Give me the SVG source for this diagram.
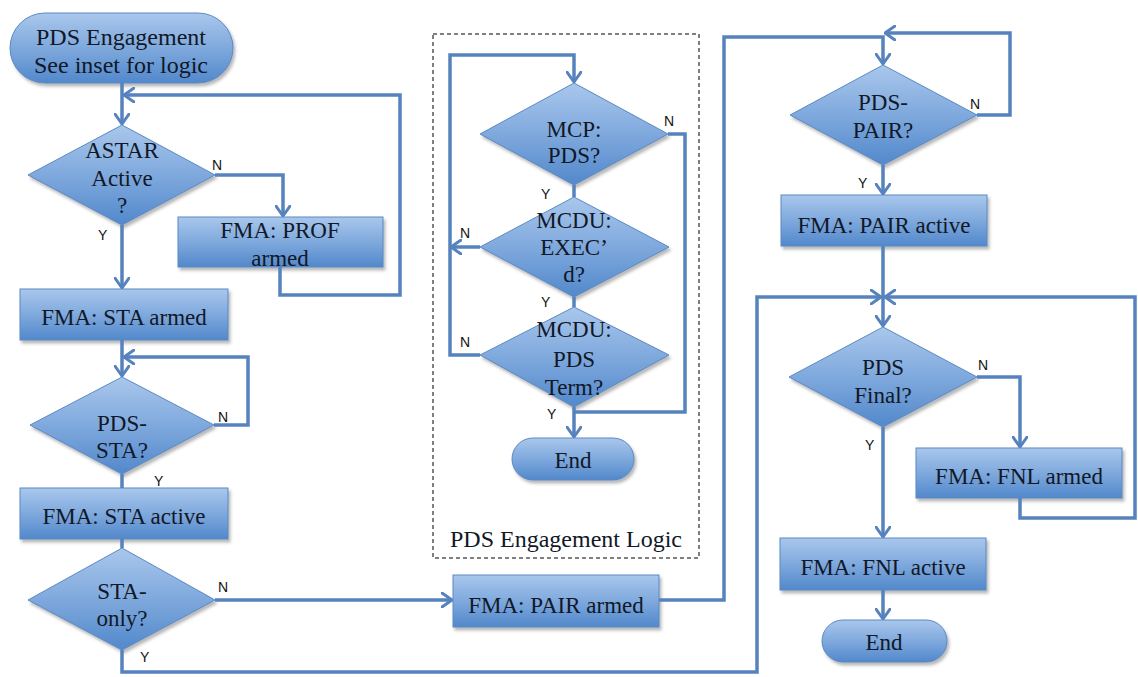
<svg xmlns="http://www.w3.org/2000/svg" width="1138" height="677" viewBox="0 0 1138 677">
  <defs>
    <linearGradient id="nodeFill" x1="0" y1="0" x2="0" y2="1">
      <stop offset="0" stop-color="#a9c7ec"/>
      <stop offset="0.5" stop-color="#7fa9dd"/>
      <stop offset="1" stop-color="#5288cb"/>
    </linearGradient>
    <filter id="shadow" x="-10%" y="-10%" width="130%" height="140%">
      <feDropShadow dx="2" dy="3" stdDeviation="1.8" flood-color="#333" flood-opacity="0.35"/>
    </filter>
    <marker id="arrow" viewBox="0 0 12 16" refX="11" refY="8" markerWidth="12" markerHeight="16" markerUnits="userSpaceOnUse" orient="auto">
      <path d="M1,1 L11,8 L1,15" fill="none" stroke="#5682be" stroke-width="3" stroke-linecap="round" stroke-linejoin="round"/>
    </marker>
  </defs>
  <style>
    .node { fill: url(#nodeFill); stroke: #5b89c4; stroke-width: 1; filter: url(#shadow); }
    .t { font-family: "Liberation Serif", "Times New Roman", serif; font-size: 23px; fill: #111827; text-anchor: middle; }
    .ts { font-size: 24px; }
    .lbl { font-family: "Liberation Sans", Arial, sans-serif; font-size: 14px; fill: #111; }
    .c { fill: none; stroke: #5682be; stroke-width: 3.5; stroke-linejoin: miter; }
    .ca { marker-end: url(#arrow); }
    .inset { fill: none; stroke: #555; stroke-width: 1.5; stroke-dasharray: 4 3; }
  </style>
  <rect width="1138" height="677" fill="#ffffff"/>

  <!-- inset frame -->
  <g id="inset-frame">
    <rect class="inset" x="433" y="34" width="266" height="524"/>
    <text class="t ts" x="566" y="547">PDS Engagement Logic</text>
  </g>

  <!-- nodes -->
  <g id="start">
    <rect class="node" x="10" y="13" width="223" height="70" rx="35" ry="35"/>
    <text class="t ts" x="121" y="45">PDS Engagement</text>
    <text class="t ts" x="121" y="73">See inset for logic</text>
  </g>
  <g id="astar">
    <polygon class="node" points="122,125 215,175 122,225 28,175"/>
    <text class="t" x="122" y="158">ASTAR</text>
    <text class="t" x="122" y="186">Active</text>
    <text class="t" x="122" y="213">?</text>
  </g>
  <g id="prof-armed">
    <rect class="node" x="178" y="217" width="205" height="50"/>
    <text class="t" x="280" y="238">FMA: PROF</text>
    <text class="t" x="280" y="266">armed</text>
  </g>
  <g id="sta-armed">
    <rect class="node" x="20" y="289" width="208" height="51"/>
    <text class="t" x="124" y="325">FMA: STA armed</text>
  </g>
  <g id="pds-sta">
    <polygon class="node" points="122,377 214,425 122,474 30,425"/>
    <text class="t" x="122" y="431">PDS-</text>
    <text class="t" x="122" y="458">STA?</text>
  </g>
  <g id="sta-active">
    <rect class="node" x="20" y="488" width="208" height="51"/>
    <text class="t" x="124" y="524">FMA: STA active</text>
  </g>
  <g id="sta-only">
    <polygon class="node" points="122,548 215,600 122,650 28,600"/>
    <text class="t" x="122" y="599">STA-</text>
    <text class="t" x="122" y="626">only?</text>
  </g>
  <g id="pair-armed">
    <rect class="node" x="453" y="575" width="206" height="52"/>
    <text class="t" x="556" y="613">FMA: PAIR armed</text>
  </g>
  <g id="pds-pair">
    <polygon class="node" points="883,65 977,115 883,165 790,115"/>
    <text class="t" x="883" y="110">PDS-</text>
    <text class="t" x="883" y="138">PAIR?</text>
  </g>
  <g id="pair-active">
    <rect class="node" x="781" y="195" width="206" height="51"/>
    <text class="t" x="884" y="233">FMA: PAIR active</text>
  </g>
  <g id="pds-final">
    <polygon class="node" points="883,327 977,377 883,427 789,377"/>
    <text class="t" x="883" y="375">PDS</text>
    <text class="t" x="883" y="403">Final?</text>
  </g>
  <g id="fnl-armed">
    <rect class="node" x="916" y="448" width="206" height="50"/>
    <text class="t" x="1019" y="484">FMA: FNL armed</text>
  </g>
  <g id="fnl-active">
    <rect class="node" x="780" y="538" width="206" height="52"/>
    <text class="t" x="883" y="575">FMA: FNL active</text>
  </g>
  <g id="end-main">
    <rect class="node" x="822" y="620" width="125" height="42" rx="21" ry="21"/>
    <text class="t" x="884" y="650">End</text>
  </g>
  <g id="mcp-pds">
    <polygon class="node" points="574,83 668,134 574,185 480,134"/>
    <text class="t" x="574" y="137">MCP:</text>
    <text class="t" x="574" y="163">PDS?</text>
  </g>
  <g id="mcdu-exec">
    <polygon class="node" points="574,197 669,247 574,297 480,247"/>
    <text class="t" x="574" y="228">MCDU:</text>
    <text class="t" x="574" y="255">EXEC’</text>
    <text class="t" x="574" y="282">d?</text>
  </g>
  <g id="mcdu-term">
    <polygon class="node" points="574,307 669,355 574,407 480,355"/>
    <text class="t" x="574" y="337">MCDU:</text>
    <text class="t" x="574" y="367">PDS</text>
    <text class="t" x="574" y="395">Term?</text>
  </g>
  <g id="end-inset">
    <rect class="node" x="512" y="438" width="122" height="42" rx="21" ry="21"/>
    <text class="t" x="573" y="468">End</text>
  </g>

  <!-- connectors -->
  <g id="connectors">
    <path class="c ca" d="M122,83 L122,124"/>
    <path class="c ca" d="M215,175 L283,175 L283,216"/>
    <path class="c ca" d="M280,267 L280,295 L400,295 L400,95 L124,95"/>
    <path class="c ca" d="M122,225 L122,288"/>
    <path class="c ca" d="M122,340 L122,376"/>
    <path class="c ca" d="M214,425 L248,425 L248,357 L124,357"/>
    <path class="c" d="M122,474 L122,488"/>
    <path class="c" d="M122,539 L122,548"/>
    <path class="c ca" d="M215,600 L452,600"/>
    <path class="c ca" d="M659,600 L724,600 L724,37 L883,37 L883,64"/>
    <path class="c ca" d="M977,115 L1010,115 L1010,33 L885,33"/>
    <path class="c ca" d="M883,165 L883,194"/>
    <path class="c ca" d="M883,246 L883,326"/>
    <path class="c ca" d="M122,650 L122,672 L757,672 L757,297 L881,297"/>
    <path class="c ca" d="M1020,498 L1020,518 L1135,518 L1135,297 L885,297"/>
    <path class="c ca" d="M977,377 L1020,377 L1020,447"/>
    <path class="c ca" d="M883,427 L883,537"/>
    <path class="c ca" d="M883,590 L883,619"/>
    <!-- inset -->
    <path class="c ca" d="M480,355 L450,355 L450,55 L574,55 L574,82"/>
    <path class="c ca" d="M480,247 L451,247"/>
    <path class="c" d="M574,185 L574,197"/>
    <path class="c" d="M574,297 L574,307"/>
    <path class="c" d="M668,134 L685,134 L685,412 L574,412"/>
    <path class="c ca" d="M574,407 L574,437"/>
  </g>

  <!-- labels -->
  <g id="labels">
    <text class="lbl" x="212" y="170">N</text>
    <text class="lbl" x="98" y="240">Y</text>
    <text class="lbl" x="218" y="422">N</text>
    <text class="lbl" x="154" y="486">Y</text>
    <text class="lbl" x="218" y="592">N</text>
    <text class="lbl" x="140" y="662">Y</text>
    <text class="lbl" x="970" y="109">N</text>
    <text class="lbl" x="858" y="188">Y</text>
    <text class="lbl" x="978" y="370">N</text>
    <text class="lbl" x="865" y="450">Y</text>
    <text class="lbl" x="664" y="126">N</text>
    <text class="lbl" x="541" y="199">Y</text>
    <text class="lbl" x="460" y="238">N</text>
    <text class="lbl" x="541" y="307">Y</text>
    <text class="lbl" x="460" y="347">N</text>
    <text class="lbl" x="547" y="419">Y</text>
  </g>
</svg>
